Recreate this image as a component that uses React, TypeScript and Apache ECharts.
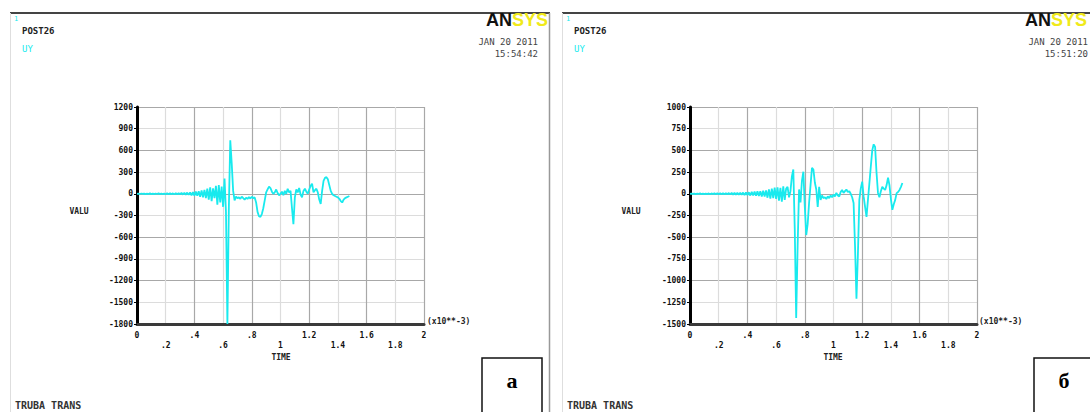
import React, { useEffect, useRef } from "react";
import * as echarts from "echarts";

// Time sampling of both records (x10**-3 s)
const TIME_STEP = 0.01;

// Panel "а" values (UY), one per time step from 0
const A_VALUES = [
  0, 2, -3, 4, -2, 3, -4, 2, -3, 5,
  -4, 3, -5, 4, -3, 6, -5, 4, -6, 5,
  -6, 7, -5, 8, -7, 6, -8, 9, -7, 10,
  -9, 12, -10, 14, -12, 16, -15, 18, -20, 22,
  -25, 30, -28, 35, -40, 45, -50, 55, -60, 70,
  -80, 90, -100, 75, -60, 110, -150, 120, -120, 100,
  -180, 210, -250, -1800, -200, 740, 420, 40, -90, -40,
  -60, -50, -70, -40, -60, -80, -55, -70, -45, -65,
  -40, -60, -50, -120, -250, -310, -320, -280, -200, -90,
  20, 60, 100, 80, 30, 0, 20, 60, 10, -20,
  0, 30, -20, 40, 0, 70, 20, 40, -200, -420,
  -50, 60, 20, 80, -10, -50, 40, 70, 30, 0,
  60, 110, 140, 20, 50, 70, 20, -80, -140, 40,
  180, 220, 230, 200, 120, 40, 0, -20, -30, -40,
  -50, -70, -100, -120, -80, -60, -50, -40, -30,
];

// Panel "б" values (UY), one per time step from 0
const B_VALUES = [
  0, 2, -2, 3, -3, 2, -2, 4, -3, 2,
  -4, 3, -3, 4, -5, 4, -3, 5, -4, 6,
  -5, 6, -6, 7, -5, 8, -7, 9, -8, 10,
  -9, 11, -10, 12, -11, 13, -12, 14, -15, 16,
  -15, 18, -20, 22, -18, 25, -22, 28, -25, 30,
  -30, 35, -32, 40, -45, 50, -55, 60, -50, 70,
  -60, 75, -80, 70, -90, 85, -70, 60, 80, -40,
  30, 200, 280, -400, -1430, -600, 50, -100, 150, 255,
  -150, -475, -350, -100, 100, 300, 280, 130, 50, -150,
  80, -70, -20, -50, -40, -60, -30, -50, -20, -40,
  -10, -30, 10, -20, -30, 20, 45, 10, 30, 50,
  20, 30, 0, -40, -105, -600, -1210, -700, -70, 60,
  140, -30, -150, -265, -70, 120, 315, 500, 570, 540,
  240, 10, -40, 30, 80, 60, 45, 100, 185, 100,
  -60, -185, -120, -70, 8, 20, 45, 80, 125,
];

// Axis ranges
const X_MIN = 0, X_MAX = 2, X_STEP = 0.2;
const A_Y_MIN = -1800, A_Y_MAX = 1200, A_Y_STEP = 300;
const B_Y_MIN = -1500, B_Y_MAX = 1000, B_Y_STEP = 250;

// Texts
const HEAD_NUM = "1";
const HEAD_PROC = "POST26";
const VAR_NAME = "UY";
const DATE_A = "JAN 20 2011";
const TIME_A = "15:54:42";
const DATE_B = "JAN 20 2011";
const TIME_B = "15:51:20";
const FOOT = "TRUBA TRANS";
const Y_TITLE = "VALU";
const X_TITLE = "TIME";
const X_MULT = "(x10**-3)";
const PANEL_TAGS = ["а", "б"];

const MONO = "'DejaVu Sans Mono', 'Liberation Mono', monospace";
const CYAN = "#18eaee";

function xFmt(v: number, idx: number) {
  const r = Math.round(v * 10) / 10;
  let s = r === 0 ? "0" : String(r);
  if (s.startsWith("0.")) s = s.slice(1);
  return idx % 2 === 1 ? "\n" + s : s;
}

export default function App() {
  const ref = useRef<HTMLDivElement>(null);
  useEffect(() => {
    if (!ref.current) return;
    const chart = echarts.init(ref.current, undefined, { renderer: "svg" });
    const toPairs = (arr: number[]) =>
      arr.map((v, i) => [Math.round(i * TIME_STEP * 100) / 100, v]);

    const grids = [
      { left: 137, top: 107, width: 287, height: 217 },
      { left: 690, top: 107, width: 287, height: 217 },
    ];
    const splitColors = ["#a8a8a8", "#dcdcdc"];

    const xAxes = grids.map((_, gi) => ({
      type: "value",
      gridIndex: gi,
      min: X_MIN,
      max: X_MAX,
      interval: X_STEP,
      axisLine: { show: true, onZero: false, lineStyle: { color: "#3a3a3a", width: 3 } },
      axisTick: { show: false },
      axisLabel: {
        formatter: xFmt,
        fontFamily: MONO,
        fontSize: 8,
        fontWeight: "bold",
        color: "#111",
        margin: 6,
        lineHeight: 10,
        showMinLabel: true,
        showMaxLabel: true,
      },
      splitLine: { show: true, lineStyle: { color: splitColors, width: 1.2 } },
    }));

    const yRanges = [
      [A_Y_MIN, A_Y_MAX, A_Y_STEP],
      [B_Y_MIN, B_Y_MAX, B_Y_STEP],
    ];
    const yAxes = grids.map((_, gi) => ({
      type: "value",
      gridIndex: gi,
      min: yRanges[gi][0],
      max: yRanges[gi][1],
      interval: yRanges[gi][2],
      axisLine: { show: true, onZero: false, lineStyle: { color: "#000", width: 3 } },
      axisTick: { show: true, length: 3, lineStyle: { color: "#000", width: 1 } },
      axisLabel: {
        formatter: (v: number) => String(v),
        fontFamily: MONO,
        fontSize: 8,
        fontWeight: "bold",
        color: "#111",
        margin: 4,
        showMinLabel: true,
        showMaxLabel: true,
      },
      splitLine: { show: true, lineStyle: { color: splitColors, width: 1.2 } },
    }));

    const panelGraphics = (off: number, logoX: number, date: string, time: string, tag: string) => [
      { type: "line", shape: { x1: 10 + off, y1: 13, x2: 550 + off, y2: 13 }, style: { stroke: "#444", lineWidth: 2 } },
      { type: "line", shape: { x1: 10.5 + off, y1: 13, x2: 10.5 + off, y2: 412 }, style: { stroke: "#dedede", lineWidth: 1 } },
      { type: "text", x: 14 + off, y: 15, style: { text: HEAD_NUM, font: `7px ${MONO}`, fill: CYAN } },
      { type: "text", x: 22 + off, y: 26, style: { text: HEAD_PROC, font: `bold 9px ${MONO}`, fill: "#222" } },
      { type: "text", x: 22 + off, y: 44, style: { text: VAR_NAME, font: `9px ${MONO}`, fill: CYAN } },
      {
        type: "text",
        x: logoX,
        y: 11,
        style: {
          text: "{a|AN}{b|SYS}",
          rich: {
            a: { fontSize: 18, fontWeight: "bold", fontFamily: "'Liberation Sans', Arial, sans-serif", fill: "#111" },
            b: { fontSize: 18, fontWeight: "bold", fontFamily: "'Liberation Sans', Arial, sans-serif", fill: "#f0ea1a" },
          },
        },
      },
      { type: "text", x: Math.min(538 + off, 1088), y: 37, style: { text: date, font: `9px ${MONO}`, fill: "#444", align: "right" } },
      { type: "text", x: Math.min(538 + off, 1088), y: 49, style: { text: time, font: `9px ${MONO}`, fill: "#444", align: "right" } },
      { type: "text", x: 15 + off, y: 400, style: { text: FOOT, font: `bold 10px ${MONO}`, fill: "#333" } },
      { type: "text", x: 79 + off, y: 211, style: { text: Y_TITLE, font: `bold 8px ${MONO}`, fill: "#222", align: "center", verticalAlign: "middle" } },
      { type: "text", x: 281 + off, y: 357, style: { text: X_TITLE, font: `bold 8px ${MONO}`, fill: "#222", align: "center", verticalAlign: "middle" } },
      { type: "text", x: 427 + off, y: 321, style: { text: X_MULT, font: `bold 8px ${MONO}`, fill: "#222", verticalAlign: "middle" } },
      { type: "rect", shape: { x: 482 + off, y: 358, width: 60, height: 60 }, style: { fill: "#fff", stroke: "#111", lineWidth: 1.5 } },
      { type: "text", x: 512 + off, y: 380, style: { text: tag, font: "bold 22px 'Liberation Serif', 'DejaVu Serif', serif", fill: "#000", align: "center", verticalAlign: "middle" } },
    ];

    chart.setOption({
      animation: false,
      backgroundColor: "#fff",
      grid: grids,
      xAxis: xAxes,
      yAxis: yAxes,
      series: [
        {
          type: "line",
          xAxisIndex: 0,
          yAxisIndex: 0,
          data: toPairs(A_VALUES),
          showSymbol: false,
          lineStyle: { color: CYAN, width: 1.8 },
          clip: true,
        },
        {
          type: "line",
          xAxisIndex: 1,
          yAxisIndex: 1,
          data: toPairs(B_VALUES),
          showSymbol: false,
          lineStyle: { color: CYAN, width: 1.8 },
          clip: true,
        },
      ],
      graphic: [
        ...panelGraphics(0, 486, DATE_A, TIME_A, PANEL_TAGS[0]),
        { type: "line", shape: { x1: 549.5, y1: 13, x2: 549.5, y2: 412 }, style: { stroke: "#999", lineWidth: 1.5 } },
        ...panelGraphics(552, 1025, DATE_B, TIME_B, PANEL_TAGS[1]),
      ],
    });
    return () => chart.dispose();
  }, []);
  return (
    <div
      ref={ref}
      style={{ position: "fixed", left: 0, top: 0, width: 1090, height: 412, background: "#fff" }}
    />
  );
}
